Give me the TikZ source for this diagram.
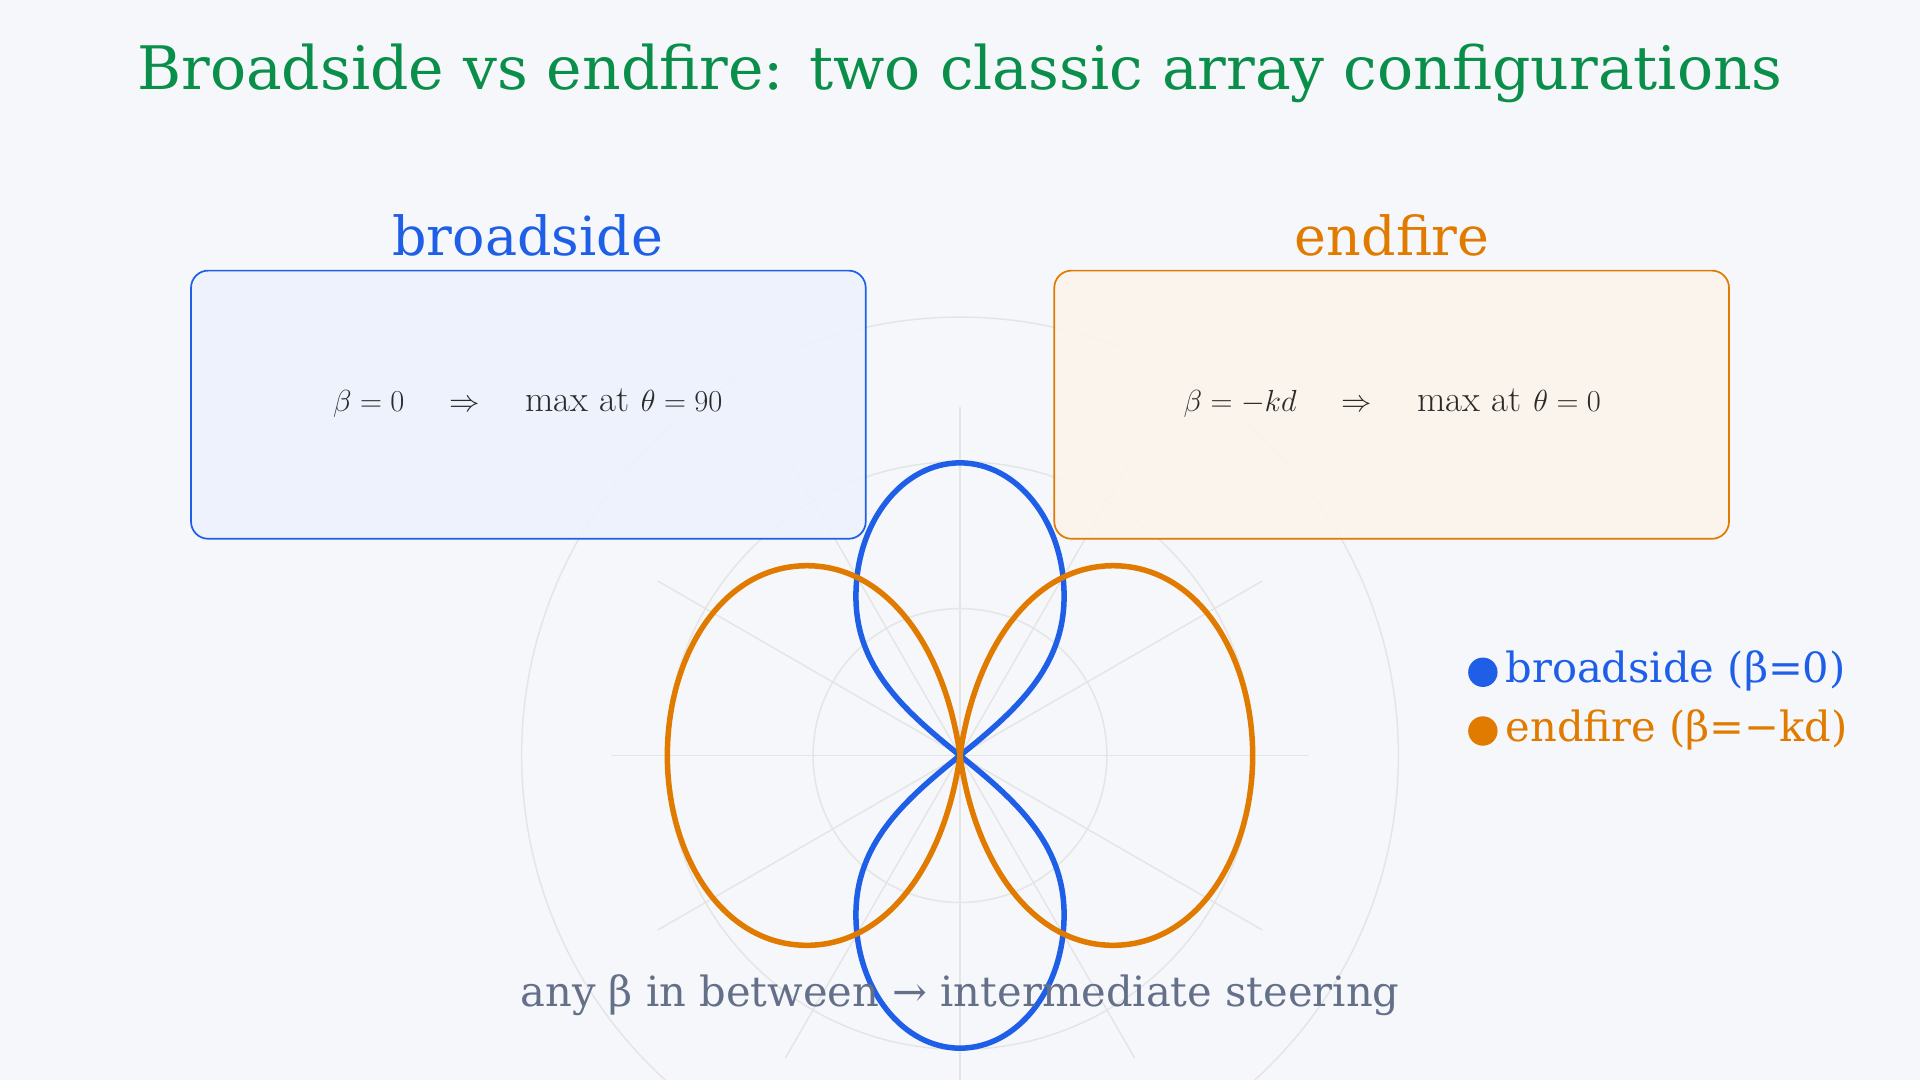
\documentclass[tikz,border=0pt]{standalone}
\usepackage{fontspec}
\setmainfont{DejaVu Serif}
\newfontfamily\lmr{Latin Modern Roman}
\begin{document}
\definecolor{bg}{HTML}{F5F7FA}
\definecolor{bl}{HTML}{1F5FE8}
\definecolor{orn}{HTML}{E07B00}
\definecolor{grn}{HTML}{0A8F4A}
\definecolor{gtx}{HTML}{64708A}
\definecolor{dk}{HTML}{2A2A2A}
\begin{tikzpicture}[x=1pt,y=-1pt,
  grid/.style={draw=black!10,line width=1.2pt},
  box/.style={rounded corners=14pt,line width=1.4pt},
  lobe/.style={line width=4.5pt,line join=round}]
\fill[bg] (0,0) rectangle (1568,882);
\useasboundingbox (0,0) rectangle (1568,882);
\coordinate (c) at (784,617);
\foreach \r in {120,240,358} \draw[grid] (c) circle (\r);
\foreach \a in {0,30,...,330} \draw[grid] (c) -- ++(\a:285);
\draw[box,draw=bl,fill=bl!8,fill opacity=0.85] (156,221) rectangle (707,440);
\draw[box,draw=orn,fill=orn!8,fill opacity=0.85] (861,221) rectangle (1412,440);
\node (bt) at (431,192) {\fontsize{44}{48}\selectfont\color{bl}broadside};
\node (et) at (1137,192) {\fontsize{44}{48}\selectfont\color{orn}endfire};
\node (be) at (431,329) {\fontsize{30}{34}\selectfont\color{dk}$\beta=0 \quad\Rightarrow\quad \hbox{\lmr max at}\ \theta=90$};
\node (ee) at (1137,329) {\fontsize{30}{34}\selectfont\color{dk}$\beta=-kd \quad\Rightarrow\quad \hbox{\lmr max at}\ \theta=0$};
% blue lobes
\draw[lobe,draw=bl] (c) .. controls (830,580) and (869,545) .. (869,487)
  .. controls (869,425) and (830,378) .. (784,378)
  .. controls (738,378) and (699,425) .. (699,487)
  .. controls (699,545) and (738,580) .. (c)
  .. controls (830,654) and (869,689) .. (869,747)
  .. controls (869,809) and (830,856) .. (784,856)
  .. controls (738,856) and (699,809) .. (699,747)
  .. controls (699,689) and (738,654) .. (c);
% orange lobes
\draw[lobe,draw=orn] (c) .. controls (772,530) and (725,462) .. (659,462)
  .. controls (590,462) and (545,535) .. (545,617)
  .. controls (545,699) and (590,772) .. (659,772)
  .. controls (725,772) and (772,704) .. (c)
  .. controls (796,530) and (843,462) .. (909,462)
  .. controls (978,462) and (1023,535) .. (1023,617)
  .. controls (1023,699) and (978,772) .. (909,772)
  .. controls (843,772) and (796,704) .. (c);
\node (t) at (784,60) {\fontsize{49}{53}\selectfont\color{grn}Broadside vs endfire: two classic array configurations};
\fill[bl] (1211,549) circle (12);
\fill[orn] (1211,597) circle (12);
\node[anchor=west] (l1) at (1226,548) {\fontsize{34}{38}\selectfont\color{bl}broadside (β=0)};
\node[anchor=west] (l2) at (1226,596) {\fontsize{34}{38}\selectfont\color{orn}endfire (β=−kd)};
\node (bot) at (784,813) {\fontsize{34}{38}\selectfont\color{gtx}any β in between → intermediate steering};
\end{tikzpicture}
\end{document}
